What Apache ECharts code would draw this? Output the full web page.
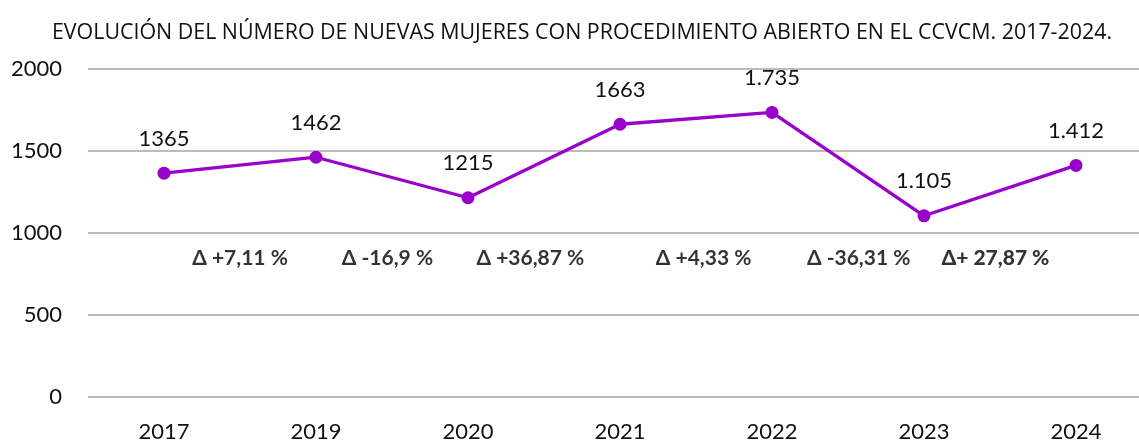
<!DOCTYPE html>
<html>
<head>
<meta charset="utf-8">
<script src="https://cdn.jsdelivr.net/npm/echarts@6/dist/echarts.min.js"></script>
<style>
	html, body { margin: 0; padding: 0; background: #fff; overflow: hidden; }
	#chart { width: 1152px; height: 443px; }
</style>
</head>
<body>
<div id="chart"></div>
<script>
// data
var years = [ '2017', '2019', '2020', '2021', '2022', '2023', '2024' ];
var mujeres = [ 1365, 1462, 1215, 1663, 1735, 1105, 1412 ];
var mujeresLabels = [ '1365', '1462', '1215', '1663', '1.735', '1.105', '1.412' ];
var yTicks = [ 0, 500, 1000, 1500, 2000 ];

// variation labels between years (x in category units, y in axis units)
var deltaText = [ 'Δ +7,11 %', 'Δ -16,9 %', 'Δ +36,87 %', 'Δ +4,33 %', 'Δ -36,31 %', 'Δ+ 27,87 %' ];
var deltaX = [ 1.0, 1.97, 2.91, 4.05, 5.07, 5.97 ];
var deltaY = [ 845, 845, 845, 845, 845, 845 ];

var font = 'Lato, "Open Sans", sans-serif';

var deltaData = [];
for (var i = 0; i < deltaText.length; i++) {
	deltaData.push({
		value : [ deltaX[i], deltaY[i] ],
		name : deltaText[i],
		label : i == deltaText.length - 1 ? { fontWeight : 900 } : {}
	});
}

var option = {
	animation : false,
	title : {
		text : 'EVOLUCIÓN DEL NÚMERO DE NUEVAS MUJERES CON PROCEDIMIENTO ABIERTO EN EL CCVCM. 2017-2024.',
		left : 577,
		textAlign : 'center',
		top : 17,
		textStyle : {
			fontFamily : '"Open Sans", sans-serif',
			fontSize : 21.4,
			fontWeight : 'normal',
			color : '#111'
		}
	},
	grid : {
		left : 88,
		top : 69,
		right : 0,
		bottom : 42,
		containLabel : false
	},
	xAxis : [ {
		type : 'category',
		data : years,
		boundaryGap : true,
		axisLine : { show : false },
		axisTick : { show : false },
		axisLabel : {
			margin : 24,
			fontFamily : font,
			fontSize : 22,
			color : '#111'
		}
	}, {
		type : 'value',
		min : 0,
		max : 7,
		show : false
	} ],
	yAxis : {
		type : 'value',
		min : yTicks[0],
		max : yTicks[yTicks.length - 1],
		interval : yTicks[1] - yTicks[0],
		axisLine : { show : false },
		axisTick : { show : false },
		axisLabel : {
			margin : 26,
			fontFamily : font,
			fontSize : 22,
			color : '#111',
			formatter : function(v) {
				return String(v);
			}
		},
		splitLine : {
			lineStyle : {
				color : '#a6a6a6',
				width : 1.5
			}
		}
	},
	series : [ {
		name : 'mujeres',
		type : 'line',
		data : mujeres,
		symbol : 'circle',
		symbolSize : 13,
		lineStyle : {
			color : '#9900cc',
			width : 3.3
		},
		itemStyle : {
			color : '#9900cc'
		},
		label : {
			show : true,
			position : 'top',
			distance : 17,
			fontFamily : font,
			fontSize : 22,
			color : '#111',
			formatter : function(p) {
				return mujeresLabels[p.dataIndex];
			}
		}
	}, {
		name : 'delta',
		type : 'scatter',
		xAxisIndex : 1,
		symbolSize : 0,
		silent : true,
		data : deltaData,
		label : {
			show : true,
			position : 'inside',
			fontFamily : font,
			fontSize : 21,
			fontWeight : 'bold',
			color : '#000',
			formatter : function(p) {
				return p.name;
			}
		}
	} ]
};

var chart = echarts.init(document.getElementById('chart'));
chart.setOption(option);
</script>
</body>
</html>
